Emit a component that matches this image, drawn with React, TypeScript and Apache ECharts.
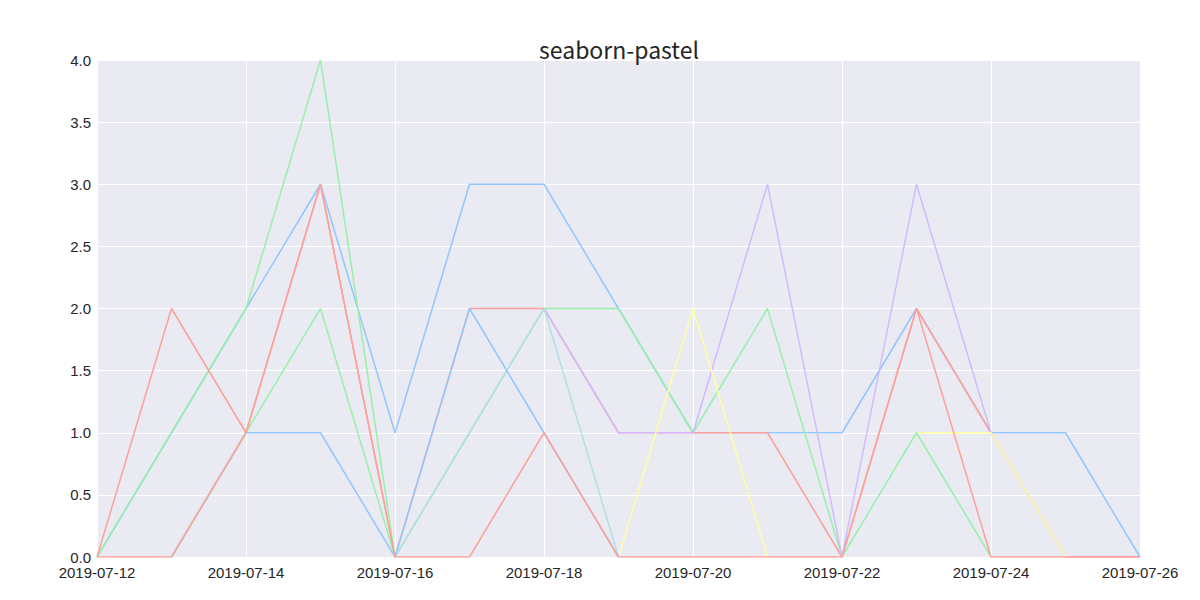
import * as echarts from 'echarts'
import React, { useEffect, useRef } from 'react'

// days on the x axis
const dates = [
  '2019-07-12', '2019-07-13', '2019-07-14', '2019-07-15', '2019-07-16',
  '2019-07-17', '2019-07-18', '2019-07-19', '2019-07-20', '2019-07-21',
  '2019-07-22', '2019-07-23', '2019-07-24', '2019-07-25', '2019-07-26',
]

// seaborn-pastel colour cycle
const palette = ['#92C6FF', '#97F0AA', '#FF9F9A', '#D0BBFF', '#FFFEA3', '#B0E0E6']

// series in drawing order (later ones are drawn on top), null = no point that day
const blue1 = [0, 1, 2, 3, 1, 3, 3, 2, 1, 1, 1, 2, 1, 1, 0]
const green1 = [0, 1, 2, 4, 0, 1, 2, 2, 1, 2, 0, null, null, null, null]
const red1 = [0, 2, 1, 3, 0, 2, 2, 1, 1, 1, 0, 2, 1, 0, 0]
const purple1 = [null, null, null, null, null, null, 2, 1, 1, 3, 0, 3, 1, 0, null]
const yellow1 = [null, null, null, null, null, null, null, 0, 2, 0, null, 1, 1, 0, null]
const cyan1 = [null, null, null, null, 0, 1, 2, 0, null, null, null, null, null, null, null]
const blue2 = [null, 0, 1, 1, 0, 2, 1, 0, null, null, null, null, null, null, null]
const green2 = [null, 0, 1, 2, 0, null, null, null, null, null, 0, 1, 0, null, null]
const red2 = [0, 0, 1, 3, 0, 0, 1, 0, 0, 0, 0, 2, 0, 0, 0]

const allSeries = [blue1, green1, red1, purple1, yellow1, cyan1, blue2, green2, red2]

export default function App() {
  const chartRef = useRef(null)

  useEffect(() => {
    const chart = echarts.init(chartRef.current, null, { renderer: 'svg' })

    const option = {
      animation: false,
      backgroundColor: '#ffffff',
      title: {
        text: 'seaborn-pastel',
        left: 614,
        textAlign: 'center',
        top: 32,
        textStyle: {
          fontFamily: 'Noto Sans CJK JP',
          fontSize: 23,
          fontWeight: 'normal',
          color: '#262626',
        },
      },
      grid: {
        left: 97,
        right: 60,
        top: 60,
        bottom: 43,
        show: true,
        backgroundColor: '#EAEAF2',
        borderWidth: 0,
      },
      xAxis: {
        type: 'category',
        data: dates,
        boundaryGap: false,
        axisLine: { show: false },
        axisTick: { show: false },
        axisLabel: {
          interval: 1,
          margin: 8,
          lineHeight: 15,
          color: '#262626',
          fontSize: 15,
          fontFamily: 'Liberation Sans',
        },
        splitLine: {
          show: true,
          interval: 1,
          lineStyle: { color: '#ffffff', width: 1 },
        },
      },
      yAxis: {
        type: 'value',
        min: 0,
        max: 4,
        interval: 0.5,
        axisLine: { show: false },
        axisTick: { show: false },
        axisLabel: {
          margin: 6,
          lineHeight: 12,
          color: '#262626',
          fontSize: 15,
          fontFamily: 'Liberation Sans',
          formatter: (v: number) => v.toFixed(1),
        },
        splitLine: {
          show: true,
          lineStyle: { color: '#ffffff', width: 1 },
        },
      },
      series: allSeries.map((values, i) => ({
        type: 'line',
        data: values,
        symbol: 'none',
        connectNulls: false,
        lineStyle: { width: 1.5, color: palette[i % palette.length] },
        itemStyle: { color: palette[i % palette.length] },
      })),
    }

    chart.setOption(option)

    return () => {
      chart.dispose()
    }
  }, [])

  return (
    <div
      ref={chartRef}
      style={{ position: 'fixed', left: 0, top: 0, width: '1200px', height: '600px' }}
    />
  )
}
